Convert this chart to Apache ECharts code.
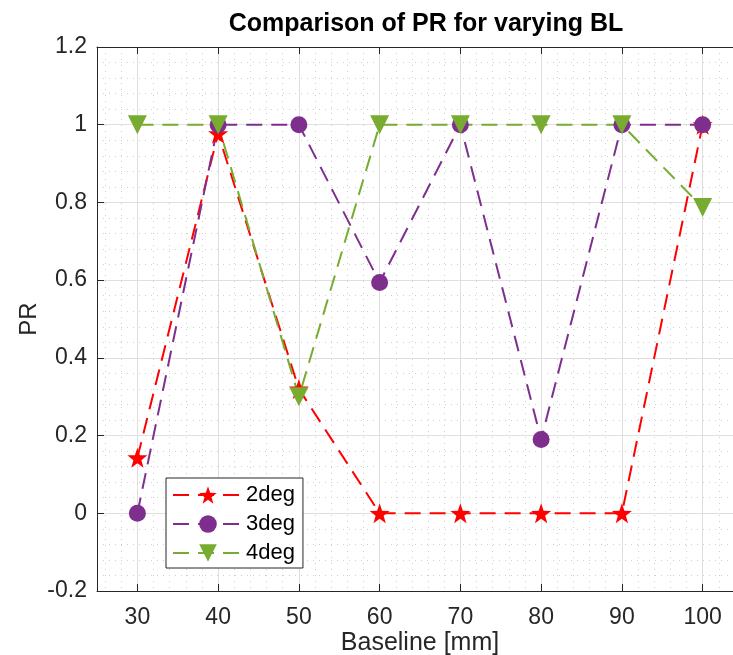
<!DOCTYPE html>
<html>
<head>
<meta charset="utf-8">
<script src="https://cdn.jsdelivr.net/npm/echarts@6/dist/echarts.min.js"></script>
<style>
  html, body { margin: 0; padding: 0; background: #ffffff; overflow: hidden; }
  #chart { width: 760px; height: 655px; }
</style>
</head>
<body>
<div id="chart"></div>
<script>
// Baseline lengths (mm) and PR per angular step
const baseline = [30, 40, 50, 60, 70, 80, 90, 100];
const pr2deg = [0.143, 0.977, 0.32, 0, 0, 0, 0, 1];
const pr3deg = [0, 1, 1, 0.594, 1, 0.19, 1, 1];
const pr4deg = [1, 1, 0.30, 1, 1, 1, 1, 0.787];

// Axis ticks
const xTicks = [30, 40, 50, 60, 70, 80, 90, 100];
const xMinorTicks = [26, 28, 32, 34, 36, 38, 42, 44, 46, 48, 52, 54, 56, 58, 62, 64, 66, 68,
  72, 74, 76, 78, 82, 84, 86, 88, 92, 94, 96, 98, 102, 104];
const yMin = -0.2, yMax = 1.2, yStep = 0.2;
const xMin = 25, xMax = 105;

const FONT = 'Liberation Sans, Arial, Helvetica, sans-serif';
const AXIS_COLOR = '#262626';
const GRID_COLOR = '#dfdfdf';
const MINOR_COLOR = '#cfcfcf';

const pairs = v => baseline.map((b, i) => [b, v[i]]);

const lineSeries = (name, values, color, symbol, size, rotate) => ({
  name: name,
  type: 'line',
  xAxisIndex: 0,
  yAxisIndex: 0,
  data: pairs(values),
  symbol: symbol,
  symbolSize: size,
  symbolRotate: rotate || 0,
  showAllSymbol: true,
  lineStyle: { color: color, width: 2, type: [16, 9] },
  itemStyle: { color: color, borderColor: color, borderWidth: 0 },
  emphasis: { disabled: true },
  animation: false
});

const chart = echarts.init(document.getElementById('chart'), null, { renderer: 'canvas' });

chart.setOption({
  backgroundColor: '#ffffff',
  animation: false,
  title: {
    text: 'Comparison of PR for varying BL',
    left: 421,
    top: 7,
    textAlign: 'center',
    textStyle: { fontFamily: FONT, fontSize: 25, fontWeight: 'bold', color: '#000000' }
  },
  grid: { left: 97, top: 47, width: 646, height: 544, containLabel: false, outerBoundsMode: 'none' },
  legend: {
    orient: 'vertical',
    left: 166,
    top: 478,
    itemWidth: 70,
    itemHeight: 22,
    itemGap: 7,
    padding: [6, 8, 4, 6],
    backgroundColor: '#ffffff',
    borderColor: AXIS_COLOR,
    borderWidth: 1,
    borderRadius: 0,
    textStyle: { fontFamily: FONT, fontSize: 22, color: '#000000', padding: [0, 0, 0, -2] },
    data: ['2deg', '3deg', '4deg']
  },
  xAxis: [
    {
      type: 'value', position: 'bottom', min: xMin, max: xMax,
      name: 'Baseline [mm]', nameLocation: 'middle', nameGap: 40, nameMoveOverlap: false,
      nameTextStyle: { fontFamily: FONT, fontSize: 25, color: AXIS_COLOR },
      axisLine: { show: true, onZero: false, lineStyle: { color: AXIS_COLOR, width: 1 } },
      axisTick: { show: true, inside: true, length: 7, customValues: xTicks, lineStyle: { color: AXIS_COLOR } },
      axisLabel: { show: true, customValues: xTicks, margin: 15, fontFamily: FONT, fontSize: 23, color: AXIS_COLOR },
      splitLine: { show: true, lineStyle: { color: GRID_COLOR, width: 1 } }
    },
    {
      type: 'value', position: 'top', min: xMin, max: xMax,
      axisLine: { show: true, onZero: false, lineStyle: { color: AXIS_COLOR, width: 1 } },
      axisTick: { show: true, inside: true, length: 7, customValues: xTicks, lineStyle: { color: AXIS_COLOR } },
      axisLabel: { show: false },
      splitLine: { show: false }
    },
    {
      type: 'value', position: 'bottom', min: xMin, max: xMax,
      axisLine: { show: false },
      axisTick: { show: false, customValues: xMinorTicks },
      axisLabel: { show: false, customValues: xMinorTicks },
      splitLine: { show: true, lineStyle: { color: MINOR_COLOR, width: 1, type: [1, 5] } },
      z: -1
    }
  ],
  yAxis: [
    {
      type: 'value', position: 'left', min: yMin, max: yMax, interval: yStep,
      name: 'PR', nameLocation: 'middle', nameGap: 56, nameMoveOverlap: false,
      nameTextStyle: { fontFamily: FONT, fontSize: 24, color: AXIS_COLOR },
      axisLine: { show: true, onZero: false, lineStyle: { color: AXIS_COLOR, width: 1 } },
      axisTick: { show: true, inside: true, length: 7, lineStyle: { color: AXIS_COLOR } },
      axisLabel: { show: true, margin: 10, fontFamily: FONT, fontSize: 23, color: AXIS_COLOR },
      splitLine: { show: true, lineStyle: { color: GRID_COLOR, width: 1 } },
      minorTick: { show: false, splitNumber: 5 },
      minorSplitLine: { show: true, lineStyle: { color: MINOR_COLOR, width: 1, type: [1, 5] } }
    },
    {
      type: 'value', position: 'right', min: yMin, max: yMax, interval: yStep,
      axisLine: { show: true, onZero: false, lineStyle: { color: AXIS_COLOR, width: 1 } },
      axisTick: { show: true, inside: true, length: 7, lineStyle: { color: AXIS_COLOR } },
      axisLabel: { show: false },
      splitLine: { show: false }
    }
  ],
  series: [
    lineSeries('2deg', pr2deg, '#ff0000', 'path://M0,-10L2.35,-3.24L9.51,-3.09L3.8,1.24L5.88,8.09L0,4L-5.88,8.09L-3.8,1.24L-9.51,-3.09L-2.35,-3.24Z', 20),
    lineSeries('3deg', pr3deg, '#7e2f8e', 'circle', 17),
    lineSeries('4deg', pr4deg, '#77ac30', 'triangle', 19, 180)
  ]
});
</script>
</body>
</html>
